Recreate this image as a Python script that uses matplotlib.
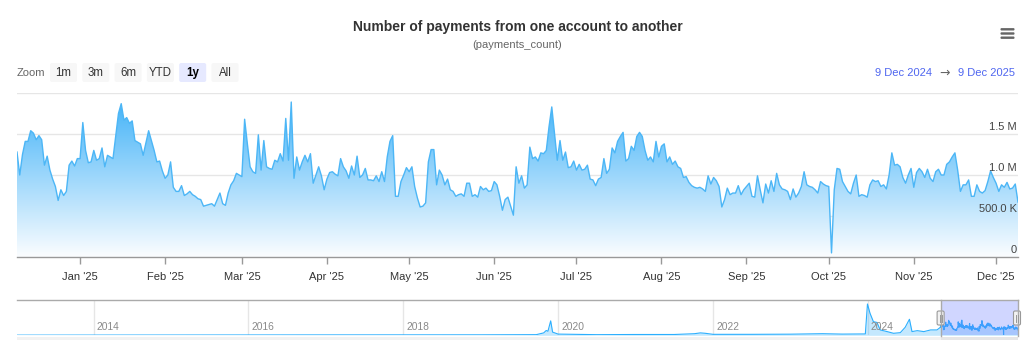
import numpy as np
import pandas as pd
import matplotlib
matplotlib.use("Agg")
import matplotlib.pyplot as plt
import matplotlib.dates as mdates
from matplotlib.patches import FancyBboxPatch, Rectangle, PathPatch
from matplotlib.colors import LinearSegmentedColormap
from matplotlib.transforms import blended_transform_factory, offset_copy

plt.rcParams['font.family'] = ['Liberation Sans', 'DejaVu Sans']

# ---------------- data ----------------
TITLE = "Number of payments from one account to another"
SUBTITLE = "(payments_count)"
ZOOM_LABEL = "Zoom"
ZOOM_BUTTONS = ["1m", "3m", "6m", "YTD", "1y", "All"]
SELECTED_BUTTON = "1y"
RANGE_FROM_LABEL = "9 Dec 2024"
RANGE_TO_LABEL = "9 Dec 2025"
view_start = "2024-12-09"
view_end = "2025-12-09"

# daily payments (millions) from 9 Dec 2024 to 9 Dec 2025
daily_payments_millions = [
    1.28, 1.00, 1.25, 1.41, 1.41, 1.54, 1.51, 1.43, 1.48, 1.43,
    1.12, 1.23, 1.06, 0.95, 0.86, 0.69, 0.82, 0.75, 0.80, 1.12,
    1.17, 1.11, 1.20, 1.20, 1.64, 1.30, 1.15, 1.16, 1.30, 1.18,
    1.20, 1.33, 1.10, 1.24, 1.22, 1.20, 1.47, 1.75, 1.87, 1.67,
    1.70, 1.63, 1.66, 1.42, 1.40, 1.38, 1.24, 1.39, 1.54, 1.42,
    1.30, 1.16, 1.17, 1.05, 0.96, 1.00, 1.16, 0.85, 0.80, 0.80,
    0.87, 0.75, 0.77, 0.80, 0.76, 0.74, 0.71, 0.70, 0.62, 0.63,
    0.64, 0.65, 0.62, 0.70, 0.78, 0.65, 0.63, 0.78, 0.88, 0.93,
    1.02, 1.00, 0.98, 1.68, 1.38, 1.10, 1.04, 1.02, 1.49, 1.06,
    1.42, 1.10, 1.08, 1.07, 1.18, 1.16, 1.26, 1.17, 1.69, 1.18,
    1.89, 0.96, 1.22, 1.06, 1.16, 1.24, 1.16, 1.26, 0.90, 1.00,
    1.10, 0.99, 0.82, 0.95, 1.03, 1.04, 1.01, 0.99, 1.20, 1.10,
    1.05, 0.96, 1.11, 1.00, 1.23, 0.97, 1.00, 1.08, 0.94, 0.94,
    0.93, 0.99, 0.92, 1.04, 0.92, 1.22, 1.41, 1.48, 0.74, 0.74,
    0.92, 1.00, 1.09, 1.04, 1.10, 0.86, 0.72, 0.61, 0.62, 0.66,
    1.16, 1.31, 1.31, 0.88, 1.06, 1.00, 0.88, 0.95, 0.82, 0.80,
    0.74, 0.76, 0.77, 0.74, 0.90, 0.90, 0.74, 0.76, 0.73, 0.86,
    0.82, 0.84, 0.80, 0.81, 0.92, 0.88, 0.74, 0.57, 0.70, 0.73,
    0.62, 0.51, 1.10, 0.90, 0.99, 0.84, 0.88, 1.34, 1.20, 1.22,
    1.17, 1.27, 1.26, 1.30, 1.59, 1.83, 1.51, 1.18, 1.42, 1.18,
    1.28, 1.09, 1.10, 1.17, 1.06, 1.13, 1.06, 1.07, 1.12, 0.95,
    0.94, 0.87, 0.95, 0.97, 1.20, 1.02, 1.07, 1.33, 1.27, 1.41,
    1.47, 1.52, 1.17, 1.20, 1.35, 1.30, 1.47, 1.52, 1.47, 1.30,
    1.18, 1.22, 1.16, 1.41, 1.22, 1.35, 1.38, 1.16, 1.22, 1.13,
    1.17, 1.10, 1.08, 0.97, 0.98, 0.91, 0.87, 0.85, 0.84, 0.85,
    0.83, 0.80, 0.99, 0.89, 0.97, 0.93, 0.86, 0.61, 0.70, 0.84,
    0.76, 0.78, 0.78, 0.87, 0.76, 0.82, 0.86, 0.90, 0.74, 0.73,
    0.99, 0.82, 0.66, 0.89, 0.78, 0.93, 0.80, 1.02, 0.88, 0.83,
    0.82, 0.80, 0.70, 0.83, 0.73, 0.78, 0.86, 1.04, 0.88, 0.86,
    0.85, 0.82, 0.78, 0.92, 0.89, 0.87, 0.86, 0.05, 0.82, 1.08,
    1.07, 0.92, 0.86, 0.80, 0.77, 0.90, 1.00, 0.74, 0.76, 0.75,
    0.73, 0.88, 0.94, 0.92, 0.93, 0.86, 0.88, 0.83, 1.00, 1.27,
    1.12, 1.13, 1.10, 0.97, 0.90, 1.00, 1.08, 0.85, 1.03, 1.08,
    1.04, 0.97, 1.07, 0.96, 0.92, 1.04, 1.07, 1.00, 1.00, 1.13,
    1.16, 1.22, 1.27, 1.06, 0.80, 0.88, 0.88, 0.94, 0.74, 0.74,
    0.88, 0.80, 0.78, 0.81, 0.92, 1.05, 0.97, 0.90, 0.80, 0.88,
    0.85, 0.91, 0.83, 0.84, 0.89, 0.67,
]

# earlier history shown only in the navigator (millions)
history_dates = [
    "2013-01-05", "2014-01-01", "2015-01-01", "2016-01-01", "2017-01-01",
    "2018-01-01", "2019-01-01", "2019-09-20", "2019-10-25", "2019-11-06",
    "2019-11-14", "2019-11-27", "2019-12-06", "2020-01-01", "2020-07-01",
    "2021-01-01", "2021-07-01", "2021-10-05", "2021-11-02", "2021-11-25",
    "2022-01-01", "2022-07-01", "2023-01-01", "2023-06-01", "2023-09-01",
    "2023-12-20", "2023-12-30", "2024-01-11", "2024-01-27", "2024-02-13",
    "2024-02-28", "2024-04-01", "2024-05-01", "2024-06-02", "2024-06-25",
    "2024-07-15", "2024-07-27", "2024-08-21", "2024-09-21", "2024-10-23",
    "2024-11-22", "2024-12-08",
]
history_millions = [
    0.02, 0.03, 0.03, 0.04, 0.05,
    0.05, 0.06, 0.08, 0.30, 0.60,
    0.50, 1.80, 0.40, 0.15, 0.08,
    0.10, 0.10, 0.20, 0.30, 0.25,
    0.12, 0.12, 0.14, 0.20, 0.15,
    0.17, 3.90, 2.75, 1.70, 1.60,
    0.67, 0.46, 0.25, 0.33, 1.00,
    2.00, 0.46, 0.58, 0.46, 0.67,
    0.67, 1.00,
]
nav_start = "2013-01-05"

y_ticks = [0, 500_000, 1_000_000, 1_500_000, 2_000_000]
y_tick_labels = ["0", "500.0 K", "1.0 M", "1.5 M", ""]
nav_year_labels = ["2014", "2016", "2018", "2020", "2022", "2024"]

# ---------------- styling ----------------
W, H = 1024, 340
SERIES = "#2caffe"
GRID = "#e6e6e6"
AXIS = "#999999"

fig = plt.figure(figsize=(W / 100, H / 100), dpi=100)
fig.patch.set_facecolor("white")


def rect(x0, y0, x1, y1):
    return [x0 / W, 1 - y1 / H, (x1 - x0) / W, (y1 - y0) / H]


# ---------------- main chart ----------------
ax = fig.add_axes(rect(17, 93, 1018, 257))
dates = pd.date_range(view_start, periods=len(daily_payments_millions), freq="D")
vals = np.array(daily_payments_millions) * 1e6
xnum = mdates.date2num(dates)

coll = ax.fill_between(xnum, vals, 0, lw=0)
path = coll.get_paths()[0]
coll.remove()
clip = PathPatch(path, transform=ax.transData, fc="none", ec="none")
ax.add_patch(clip)
grad = np.linspace(0, 1, 256).reshape(-1, 1)
cmap = LinearSegmentedColormap.from_list("g", ["#fbfdff", "#46b4f8"])
im = ax.imshow(grad, extent=[xnum[0], xnum[-1], 0, vals.max()], origin="lower",
               aspect="auto", cmap=cmap, zorder=2, interpolation="bilinear")
im.set_clip_path(clip)
ax.plot(xnum, vals, color="#4cb6f6", lw=1.0, zorder=3, solid_joinstyle="round")

ax.set_xlim(mdates.date2num(pd.Timestamp(view_start)), mdates.date2num(pd.Timestamp(view_end)))
ax.set_ylim(0, 2_000_000)
ax.set_yticks(y_ticks)
ax.yaxis.grid(True, color=GRID, lw=1)
ax.set_axisbelow(True)
ax.tick_params(axis="y", length=0, labelleft=False)
for sp in ["top", "left", "right"]:
    ax.spines[sp].set_visible(False)
ax.spines["bottom"].set_color(AXIS)
ax.spines["bottom"].set_linewidth(1)
ax.spines["bottom"].set_zorder(4)
ax.xaxis.set_major_locator(mdates.MonthLocator())
ax.xaxis.set_major_formatter(mdates.DateFormatter("%b '%y"))
ax.tick_params(axis="x", length=5, width=1, color=AXIS, pad=6,
               labelsize=8, labelcolor="#333333")
ax.patch.set_alpha(0)

ytrans = offset_copy(blended_transform_factory(ax.transAxes, ax.transData),
                     fig=fig, x=-1, y=2, units="dots")
for v, lab in zip(y_ticks, y_tick_labels):
    if lab:
        ax.text(1.0, v, lab, transform=ytrans, ha="right", va="bottom",
                fontsize=8, color="#444444", zorder=5)

# ---------------- navigator ----------------
nav = fig.add_axes(rect(17, 300, 1018, 335.3))
nav_dates = pd.to_datetime(history_dates).append(dates)
nav_vals = np.concatenate([np.array(history_millions), np.array(daily_payments_millions)])
nx = mdates.date2num(nav_dates)
nav.fill_between(nx, nav_vals, 0, color=SERIES, alpha=0.28, lw=0, zorder=2)
nav.plot(nx, nav_vals, color=SERIES, lw=0.8, zorder=3)
nav.set_xlim(mdates.date2num(pd.Timestamp(nav_start)), mdates.date2num(pd.Timestamp(view_end)))
nav.set_ylim(0, 4.4)
nav.set_xticks([])
nav.set_yticks([])
for sp in nav.spines.values():
    sp.set_visible(False)
nav.patch.set_alpha(0)
lab_trans = offset_copy(blended_transform_factory(nav.transData, nav.transAxes),
                        fig=fig, x=3, y=3, units="dots")
for lab in nav_year_labels:
    d = mdates.date2num(pd.Timestamp(f"{lab}-01-01"))
    nav.axvline(d, color=GRID, lw=1, zorder=1)
    nav.text(d, 0, lab, transform=lab_trans, ha="left", va="bottom",
             fontsize=7.4, color="#8a8a8a", zorder=4)
s0 = mdates.date2num(pd.Timestamp(view_start))
s1 = mdates.date2num(pd.Timestamp(view_end))
nav.axvspan(s0, s1, color=(102 / 255, 122 / 255, 1.0, 0.3), lw=0, zorder=5)

# ---------------- overlay (pixel coordinates) ----------------
ov = fig.add_axes([0, 0, 1, 1], zorder=10)
ov.set_xlim(0, W)
ov.set_ylim(H, 0)
ov.axis("off")
ov.patch.set_alpha(0)

# navigator outline, handles, scrollbar
px0 = nav.transData.transform((s0, 0))[0]
px1 = nav.transData.transform((s1, 0))[0]
ov.plot([17, 1018], [300, 300], color="#aaaaaa", lw=1)
ov.plot([px0, px0], [300, 335.5], color="#aaaaaa", lw=1)
ov.plot([px1 - 0.5, px1 - 0.5], [300, 335.5], color="#aaaaaa", lw=1)
ov.add_patch(Rectangle((17, 337), 1001, 5, fc="#f2f2f2", ec="none"))
ov.add_patch(Rectangle((px0, 337), px1 - px0, 5, fc="#e6e6e6", ec="none"))
for hx in (px0, px1 - 1):
    ov.add_patch(FancyBboxPatch((hx - 3.5, 311), 7, 14,
                                boxstyle="round,pad=0,rounding_size=1.5",
                                fc="#f2f2f2", ec="#999999", lw=0.8))
    ov.plot([hx - 1, hx - 1], [314.5, 321.5], color="#999999", lw=0.7)
    ov.plot([hx + 1, hx + 1], [314.5, 321.5], color="#999999", lw=0.7)

# titles
ov.text(518, 27, TITLE, ha="center", va="center", fontsize=10,
        fontweight="bold", color="#333333")
ov.text(517.5, 45.5, SUBTITLE, ha="center", va="center", fontsize=8,
        color="#666666")

# hamburger menu
for yy in (29.3, 33.5, 37.7):
    ov.add_patch(FancyBboxPatch((1000.5, yy - 1.2), 14, 2.4,
                                boxstyle="round,pad=0,rounding_size=1",
                                fc="#666666", ec="none"))

# range selector
ov.text(17, 73, ZOOM_LABEL, ha="left", va="center", fontsize=8, color="#666666")
for i, lab in enumerate(ZOOM_BUTTONS):
    bx = 50 + i * 32.3
    sel = lab == SELECTED_BUTTON
    ov.add_patch(FancyBboxPatch((bx, 63), 27, 19,
                                boxstyle="round,pad=0,rounding_size=2",
                                fc="#e6e9ff" if sel else "#f7f7f7", ec="none"))
    ov.text(bx + 13.5, 73, lab, ha="center", va="center", fontsize=8.3,
            color="#000000" if sel else "#333333",
            fontweight="bold" if sel else "normal")

ov.text(1015, 73, RANGE_TO_LABEL, ha="right", va="center", fontsize=8, color="#4f66f0")
ov.text(944.5, 73, "\u2192", ha="center", va="center", fontsize=9,
        color="#666666", family="DejaVu Sans")
ov.text(875, 73, RANGE_FROM_LABEL, ha="left", va="center", fontsize=8, color="#4f66f0")

fig.savefig("out.png", dpi=100, facecolor="white")
